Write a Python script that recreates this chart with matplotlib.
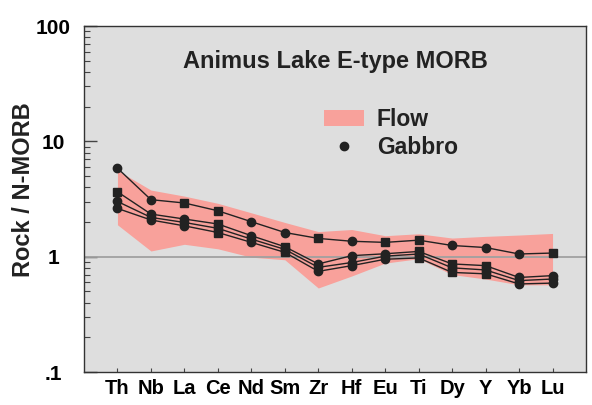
import matplotlib
matplotlib.use("Agg")
import matplotlib.pyplot as plt
import numpy as np
from matplotlib.patches import Patch
from matplotlib.lines import Line2D
from matplotlib.ticker import LogLocator, NullFormatter, FixedLocator, FixedFormatter

plt.rcParams["font.family"] = ["Liberation Sans", "DejaVu Sans"]
plt.rcParams["font.weight"] = "bold"

# spider diagram data, normalised to N-MORB
elements = ["Th", "Nb", "La", "Ce", "Nd", "Sm", "Zr", "Hf", "Eu", "Ti", "Dy", "Y", "Yb", "Lu"]

flow_upper = [5.6, 3.78, 3.35, 2.9, 2.4, 1.98, 1.65, 1.72, 1.52, 1.58, 1.45, 1.50, 1.54, 1.59]
flow_lower = [1.89, 1.12, 1.28, 1.17, 0.99, 0.94, 0.535, 0.68, 0.88, 0.96, 0.70, 0.64, 0.57, 0.57]

gabbro_1 = [5.85, 3.12, 2.92, 2.50, 2.01, 1.62, 1.44, 1.36, 1.33, 1.39, 1.25, 1.20, 1.055, 1.075]
gabbro_2 = [3.65, 2.34, 2.12, 1.92, 1.52, 1.22, 0.865, 1.02, 1.06, 1.11, 0.865, 0.836, 0.66, 0.685]
gabbro_3 = [3.01, 2.19, 1.98, 1.76, 1.42, 1.157, 0.808, 0.89, 1.01, 1.055, 0.80, 0.767, 0.62, 0.64]
gabbro_4 = [2.62, 2.08, 1.85, 1.62, 1.33, 1.09, 0.746, 0.836, 0.95, 0.975, 0.73, 0.71, 0.58, 0.59]

y_ticks = [0.1, 1, 10, 100]
y_tick_labels = [".1", "1", "10", "100"]

# the source plot mixes round and square symbols
markers_top = ["o", "o", "s", "s", "o", "o", "s", "o", "s", "s", "o", "o", "o", "s"]
markers_low = ["o", "o", "o", "s", "o", "s", "o", "o", "o", "s", "s", "s", "o", "o"]

ink = "#222222"
fig = plt.figure(figsize=(5.92, 4.05), dpi=100)
ax = fig.add_axes([84 / 592, 33 / 405, 502 / 592, 346 / 405])
ax.set_facecolor("#dedede")

x = np.arange(len(elements))
ax.fill_between(x, flow_lower, flow_upper, color="#f8a19b", lw=0, zorder=1)
ax.axhline(1, color="#a0a0a0", lw=1.3, zorder=2)

series = [gabbro_1, gabbro_2, gabbro_3, gabbro_4]
for i, vals in enumerate(series):
    vals = np.array(vals)
    ax.plot(x, vals, color=ink, lw=1.0, zorder=3)
    mk = list(markers_top if i == 0 else markers_low)
    if i == 1:
        mk[0] = "s"
    for m in ("o", "s"):
        sel = np.array([k == m for k in mk])
        ax.plot(x[sel], vals[sel], ls="none", marker=m, color=ink,
                ms=6 if m == "o" else 5.5, zorder=4)

ax.set_yscale("log")
ax.set_ylim(0.1, 100)
ax.set_xlim(-1, 14)

ax.yaxis.set_major_locator(FixedLocator(y_ticks))
ax.yaxis.set_major_formatter(FixedFormatter(y_tick_labels))
ax.yaxis.set_minor_locator(LogLocator(base=10, subs=np.arange(2, 10)))
ax.yaxis.set_minor_formatter(NullFormatter())
ax.set_xticks(x)
ax.set_xticklabels(elements)

ax.tick_params(axis="y", which="major", direction="in", length=9, width=1,
               color="#444444", labelsize=15, pad=22, right=False)
ax.tick_params(axis="y", which="minor", direction="in", length=4.5, width=0.8,
               color="#444444", right=False)
for lab in ax.get_yticklabels():
    lab.set_horizontalalignment("center")
ax.tick_params(axis="x", direction="in", length=3, width=0.8, color="#444444",
               labelsize=14.5, pad=5, top=False)

for s in ax.spines.values():
    s.set_color("#333333")
    s.set_linewidth(1.0)

fig.text(24 / 592, 1 - 190 / 405, "Rock / N-MORB", rotation=90,
         ha="center", va="center", fontsize=17, color=ink)
ax.text(0.5, 0.896, "Animus Lake E-type MORB", transform=ax.transAxes,
        ha="center", va="center", fontsize=17, color=ink)

handles = [Patch(facecolor="#f8a19b", edgecolor="none"),
           Line2D([], [], ls="none", marker="o", color=ink, ms=6)]
ax.legend(handles, ["Flow", "Gabbro"], loc="upper left",
          bbox_to_anchor=(0.478, 0.762), frameon=False, fontsize=16.5,
          handlelength=1.75, handleheight=0.7, handletextpad=0.55,
          labelspacing=0.2, borderpad=0, borderaxespad=0,
          labelcolor=ink)

fig.savefig("out.png", dpi=100)
